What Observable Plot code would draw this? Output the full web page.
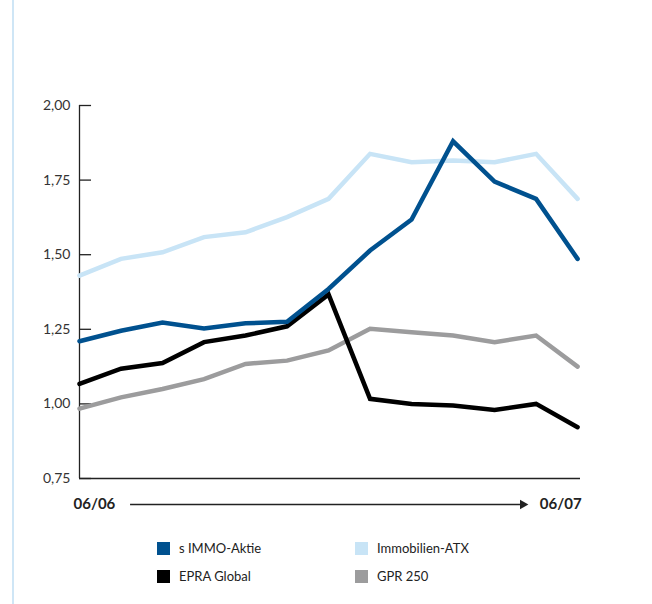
<!DOCTYPE html>
<html>
<head>
<meta charset="utf-8">
<script src="https://cdn.jsdelivr.net/npm/d3@7"></script>
<script src="https://cdn.jsdelivr.net/npm/@observablehq/plot@0.6"></script>
<style>
  html, body { margin: 0; padding: 0; background: #fff; }
  #wrap { position: relative; width: 652px; height: 604px; font-family: Lato, "Noto Sans", sans-serif; }
  #edge { position: absolute; left: 12px; top: 0; width: 2px; height: 604px; background: #cfe6f6; }
  .leg { position: absolute; font-size: 13px; color: #222; display: flex; align-items: center; }
  .leg span.sw { display: inline-block; width: 13px; height: 13px; margin-right: 9px; }
</style>
</head>
<body>
<div id="wrap">
  <div id="edge"></div>
  <div id="chart"></div>
</div>
<script>
// ---- data ----
const periods = ["06/06","","","","","","","","","","","","06/07"];
const seriesNames = ["s IMMO-Aktie", "Immobilien-ATX", "EPRA Global", "GPR 250"];
const sImmo   = [1.21, 1.245, 1.273, 1.253, 1.27, 1.275, 1.385, 1.514, 1.618, 1.88, 1.745, 1.687, 1.486];
const immoATX = [1.43, 1.486, 1.508, 1.559, 1.575, 1.626, 1.687, 1.838, 1.81, 1.816, 1.81, 1.838, 1.687];
const epra    = [1.067, 1.118, 1.137, 1.207, 1.229, 1.26, 1.367, 1.017, 1.0, 0.995, 0.98, 1.0, 0.922];
const gpr     = [0.984, 1.022, 1.05, 1.083, 1.134, 1.145, 1.179, 1.252, 1.24, 1.229, 1.207, 1.229, 1.125];
const yTicks  = [0.75, 1.00, 1.25, 1.50, 1.75, 2.00];
const colors  = ["#00518f", "#c8e4f6", "#000000", "#9c9c9d"];

const valuesBySeries = [sImmo, immoATX, epra, gpr];
const rows = [];
valuesBySeries.forEach((vals, s) => vals.forEach((v, i) => rows.push({series: seriesNames[s], i, v})));
// draw order: light blue, gray, black, dark blue
const drawOrder = [1, 3, 2, 0];

const fmt = d => d3.format(".2f")(d).replace(".", ",");
const last = periods.length - 1;

const plot = Plot.plot({
  width: 652,
  height: 604,
  marginLeft: 79,
  marginRight: 72,
  marginTop: 105,
  marginBottom: 126,
  x: {domain: [0, last + 0.07], axis: null},
  y: {domain: [0.75, 2.0], axis: null},
  style: {fontFamily: "Lato, 'Noto Sans', sans-serif", background: "transparent", overflow: "visible"},
  marks: [
    // y tick labels
    Plot.text(yTicks, {x: 0, y: d => d, text: fmt, textAnchor: "end", dx: -9, fontSize: 14, fill: "#333"}),
    // inward tick marks
    Plot.ruleY(yTicks, {y: d => d, x1: 0, x2: 0.29, stroke: "#222", strokeWidth: 1.3}),
    // axis lines
    Plot.ruleX([0], {y1: 0.75, y2: 2.0, stroke: "#222", strokeWidth: 1.3}),
    Plot.ruleY([0.75], {stroke: "#222", strokeWidth: 1.3}),
    // series
    ...drawOrder.map(s => Plot.line(rows.filter(r => r.series === seriesNames[s]), {
      x: "i", y: "v", stroke: colors[s], strokeWidth: 4.5, strokeLinejoin: "miter", strokeMiterlimit: 10, clip: false
    })),
    // period labels
    Plot.text([periods[0]], {x: 0, y: 0.75, text: d => d, textAnchor: "start", dx: -6, dy: 26, fontSize: 15, fontWeight: "bold", fill: "#222"}),
    Plot.text([periods[last]], {x: last, y: 0.75, text: d => d, textAnchor: "end", dx: 4, dy: 26, fontSize: 15, fontWeight: "bold", fill: "#222"}),
    // time arrow
    Plot.ruleY([0.75], {x1: 1.23, x2: 10.7, dy: 26, stroke: "#222", strokeWidth: 1.3}),
    Plot.dot([0.75], {x: 10.68, y: d => d, dy: 26, symbol: "triangle", rotate: 90, r: 3.6, fill: "#222", stroke: "none"})
  ]
});
document.getElementById("chart").appendChild(plot);

// legend
const legPos = [[157, 540], [355, 540], [157, 568], [355, 568]];
const wrap = document.getElementById("wrap");
seriesNames.forEach((name, s) => {
  const d = document.createElement("div");
  d.className = "leg";
  d.style.left = legPos[s][0] + "px";
  d.style.top = legPos[s][1] + "px";
  d.innerHTML = `<span class="sw" style="background:${colors[s]}"></span>${name}`;
  wrap.appendChild(d);
});
</script>
</body>
</html>
